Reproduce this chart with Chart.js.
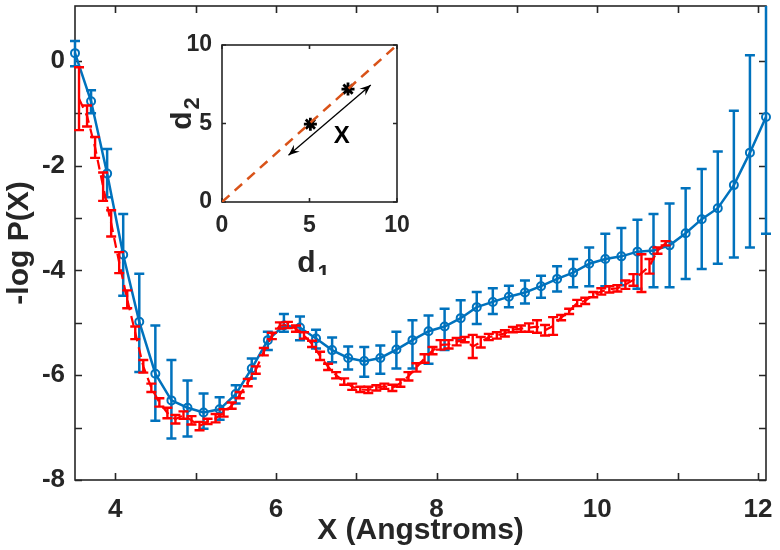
<!DOCTYPE html>
<html>
<head>
<meta charset="utf-8">
<script src="https://cdn.jsdelivr.net/npm/chart.js@4.4.0/dist/chart.umd.min.js"></script>
<style>
html,body{margin:0;padding:0;background:#fff;}
#wrap{position:relative;width:780px;height:550px;}
#main{position:absolute;left:0;top:0;}
#inset{position:absolute;left:170px;top:20px;}
</style>
</head>
<body>
<div id="wrap">
  <canvas id="main" width="780" height="550"></canvas>
  <canvas id="inset" width="240" height="255"></canvas>
</div>
<script>
// blue curve (circles, every 0.2 A)
const blueX = [3.5,3.7,3.9,4.1,4.3,4.5,4.7,4.9,5.1,5.3,5.5,5.7,5.9,6.1,6.3,6.5,6.7,6.9,7.1,7.3,7.5,7.7,7.9,8.1,8.3,8.5,8.7,8.9,9.1,9.3,9.5,9.7,9.9,10.1,10.3,10.5,10.7,10.9,11.1,11.3,11.5,11.7,11.9,12.1];
const blueY = [0.15,-0.77,-2.15,-3.70,-4.98,-5.97,-6.48,-6.62,-6.71,-6.65,-6.36,-5.87,-5.33,-5.05,-5.09,-5.30,-5.52,-5.67,-5.73,-5.67,-5.51,-5.33,-5.16,-5.07,-4.91,-4.70,-4.60,-4.50,-4.42,-4.30,-4.16,-4.04,-3.87,-3.78,-3.73,-3.64,-3.62,-3.52,-3.29,-3.02,-2.81,-2.37,-1.75,-1.07];
const blueLo = [-0.10,-1.00,-2.60,-4.48,-5.94,-6.87,-7.21,-7.17,-7.02,-6.85,-6.54,-6.06,-5.52,-5.17,-5.33,-5.49,-5.75,-5.89,-6.03,-5.97,-5.87,-5.87,-5.78,-5.52,-5.33,-5.02,-4.83,-4.70,-4.63,-4.52,-4.40,-4.32,-4.30,-4.30,-4.28,-4.35,-4.32,-4.32,-4.16,-3.97,-3.87,-3.75,-3.56,-3.30];
const blueHi = [0.38,-0.56,-1.68,-2.92,-4.06,-5.05,-5.71,-6.10,-6.35,-6.42,-6.19,-5.68,-5.17,-4.83,-4.88,-5.13,-5.28,-5.45,-5.46,-5.43,-5.17,-4.95,-4.86,-4.73,-4.57,-4.41,-4.34,-4.29,-4.19,-4.10,-3.92,-3.78,-3.56,-3.30,-3.19,-3.03,-2.92,-2.72,-2.43,-2.06,-1.73,-0.95,0.11,1.60];

// red curve (dashed, every 0.1 A)
const redX = [3.55,3.65,3.75,3.85,3.95,4.05,4.15,4.25,4.35,4.45,4.55,4.65,4.75,4.85,4.95,5.05,5.15,5.25,5.35,5.45,5.55,5.65,5.75,5.85,5.95,6.05,6.15,6.25,6.35,6.45,6.55,6.65,6.75,6.85,6.95,7.05,7.15,7.25,7.35,7.45,7.55,7.65,7.75,7.85,7.95,8.05,8.15,8.25,8.35,8.45,8.55,8.65,8.75,8.85,8.95,9.05,9.15,9.25,9.35,9.45,9.55,9.65,9.75,9.85,9.95,10.05,10.15,10.25,10.35,10.45,10.55,10.65,10.75,10.85];
const redY = [-0.72,-1.05,-1.65,-2.40,-3.10,-3.85,-4.55,-5.19,-5.83,-6.24,
  -6.52,-6.72,-6.84,-6.76,-6.86,-6.97,-6.88,-6.82,-6.72,-6.58,
  -6.38,-6.14,-5.90,-5.55,-5.25,-5.05,-5.04,-5.11,-5.24,-5.40,
  -5.63,-5.84,-6.00,-6.12,-6.22,-6.27,-6.28,-6.24,-6.21,-6.24,
  -6.15,-6.02,-5.85,-5.68,-5.53,-5.42,-5.41,-5.36,-5.32,-5.45,
  -5.37,-5.27,-5.24,-5.20,-5.13,-5.11,-5.09,-5.07,-5.14,-5.06,
  -4.90,-4.78,-4.62,-4.58,-4.46,-4.40,-4.36,-4.34,-4.27,-4.18,
  -4.05,-3.92,-3.62,-3.48];
const redErr = [0.60,0.20,0.20,0.27,0.25,0.20,0.17,0.12,0.12,0.08,
  0.08,0.10,0.08,0.07,0.08,0.08,0.05,0.08,0.07,0.06,
  0.06,0.07,0.07,0.07,0.06,0.06,0.06,0.06,0.06,0.06,
  0.08,0.06,0.06,0.06,0.06,0.05,0.06,0.05,0.05,0.06,
  0.07,0.08,0.08,0.08,0.07,0.09,0.08,0.07,0.05,0.22,
  0.10,0.06,0.06,0.06,0.05,0.06,0.08,0.12,0.10,0.17,
  0.05,0.05,0.06,0.06,0.05,0.06,0.06,0.06,0.08,0.11,
  0.36,0.14,0.06,0.04];

const xTicks = [4,5,6,7,8,9,10,11,12];
const xLabels = [4,6,8,10,12];
const yTicks = [-8,-7,-6,-5,-4,-3,-2,-1,0];
const yLabels = [-8,-6,-4,-2,0];

// inset
const insetTicks = [0,5,10];
const diagX = [0,10], diagY = [0,10];
const ptsX = [5.05,7.2], ptsY = [4.96,7.19];
const arrowX = [3.8,8.5], arrowY = [2.98,7.45];
const labelX = {x:6.85, y:4.15, text:'X'};

const F = "'Liberation Sans', Arial, Helvetica, sans-serif";
const INK = '#262626';
const BLUE = '#0072BD', RED = '#FF0000', ORANGE = '#D95319';

const noPad = s => { s.paddingTop = 0; s.paddingBottom = 0; s.paddingLeft = 0; s.paddingRight = 0; };

const errorBars = {
  id:'errorBars',
  afterDatasetDraw(chart, args){
    const ds = chart.data.datasets[args.index];
    if(!ds.errLo) return;
    const ctx = chart.ctx, a = chart.chartArea;
    const xs = chart.scales.x, ys = chart.scales.y;
    ctx.save();
    ctx.beginPath(); ctx.rect(0, a.top, chart.width, a.bottom-a.top); ctx.clip();
    ctx.strokeStyle = ds.borderColor; ctx.lineWidth = ds.errWidth; ctx.setLineDash([]);
    ds.data.forEach((p,i)=>{
      const px = xs.getPixelForValue(p.x);
      const lo = ys.getPixelForValue(ds.errLo[i]), hi = ys.getPixelForValue(ds.errHi[i]);
      ctx.beginPath();
      ctx.moveTo(px, lo); ctx.lineTo(px, hi);
      ctx.moveTo(px-ds.capW, lo); ctx.lineTo(px+ds.capW, lo);
      ctx.moveTo(px-ds.capW, hi); ctx.lineTo(px+ds.capW, hi);
      ctx.stroke();
    });
    ctx.restore();
  }
};

const boxTicks = {
  id:'boxTicks',
  beforeDatasetsDraw(chart, args, o){
    const ctx = chart.ctx, a = chart.chartArea, x = chart.scales.x, y = chart.scales.y;
    ctx.save();
    ctx.strokeStyle = INK; ctx.lineWidth = o.width;
    ctx.strokeRect(a.left, a.top, a.right-a.left, a.bottom-a.top);
    ctx.beginPath();
    x.ticks.forEach(t=>{
      const px = Math.round(x.getPixelForValue(t.value))+0.5;
      ctx.moveTo(px, a.bottom); ctx.lineTo(px, a.bottom-o.len);
      ctx.moveTo(px, a.top); ctx.lineTo(px, a.top+o.len);
    });
    y.ticks.forEach(t=>{
      const py = Math.round(y.getPixelForValue(t.value))+0.5;
      ctx.moveTo(a.left, py); ctx.lineTo(a.left+o.len, py);
      ctx.moveTo(a.right, py); ctx.lineTo(a.right-o.len, py);
    });
    ctx.stroke();
    ctx.restore();
  }
};

new Chart(document.getElementById('main'), {
  type:'line',
  data:{datasets:[
    {
      data: redX.map((x,i)=>({x, y:redY[i]})),
      borderColor:RED, borderWidth:2.2, borderDash:[10,6],
      pointRadius:0, fill:false, tension:0,
      errLo: redY.map((v,i)=>v-redErr[i]), errHi: redY.map((v,i)=>v+redErr[i]),
      errWidth:2.4, capW:5
    },
    {
      data: blueX.map((x,i)=>({x, y:blueY[i]})),
      borderColor:BLUE, borderWidth:2.5,
      pointRadius:4, pointBorderWidth:2, pointBorderColor:BLUE,
      pointBackgroundColor:'rgba(255,255,255,0)',
      fill:false, tension:0, clip:false,
      errLo: blueLo, errHi: blueHi, errWidth:2.5, capW:5
    }
  ]},
  options:{
    responsive:false, animation:false, devicePixelRatio:1,
    layout:{padding:{top:5, right:14, left:0, bottom:0}},
    plugins:{legend:{display:false}, tooltip:{enabled:false}, boxTicks:{width:1.6, len:7}},
    scales:{
      x:{
        type:'linear', min:3.5, max:12.1,
        afterBuildTicks: s=>{ s.ticks = xTicks.map(v=>({value:v})); },
        afterFit: s=>{ s.height = 70; noPad(s); },
        grid:{display:false, drawTicks:false}, border:{display:false},
        ticks:{color:INK, padding:14, autoSkip:false, maxRotation:0,
          font:{family:F, size:26, weight:'bold'},
          callback: v => xLabels.includes(v) ? String(v) : ''},
        title:{display:true, text:'X (Angstroms)', color:INK,
          font:{family:F, size:30, weight:'bold'}, padding:{top:0, bottom:1}}
      },
      y:{
        type:'linear', min:-8, max:1.05,
        afterBuildTicks: s=>{ s.ticks = yTicks.map(v=>({value:v})); },
        afterFit: s=>{ s.width = 75; noPad(s); },
        grid:{display:false, drawTicks:false}, border:{display:false},
        ticks:{color:INK, padding:10, autoSkip:false,
          font:{family:F, size:26, weight:'bold'},
          callback: v => yLabels.includes(v) ? String(v) : ''},
        title:{display:true, text:'-log P(X)', color:INK,
          font:{family:F, size:30, weight:'bold'}, padding:{top:2, bottom:0}}
      }
    }
  },
  plugins:[boxTicks, errorBars]
});

function subText(ctx, cx, cy, main, sub, size, rot){
  ctx.save();
  ctx.translate(cx, cy); ctx.rotate(rot);
  ctx.fillStyle = INK; ctx.textAlign = 'left'; ctx.textBaseline = 'alphabetic';
  ctx.font = `bold ${size}px ${F}`; const w1 = ctx.measureText(main).width;
  ctx.font = `bold ${Math.round(size*0.72)}px ${F}`; const w2 = ctx.measureText(sub).width;
  const x0 = -(w1+w2+2)/2;
  ctx.font = `bold ${size}px ${F}`; ctx.fillText(main, x0, size*0.3);
  ctx.font = `bold ${Math.round(size*0.72)}px ${F}`; ctx.fillText(sub, x0+w1+2, size*0.3+size*0.28);
  ctx.restore();
}

const insetDeco = {
  id:'insetDeco',
  beforeDatasetsDraw(chart){
    const ctx = chart.ctx, a = chart.chartArea, x = chart.scales.x, y = chart.scales.y;
    ctx.save();
    ctx.strokeStyle = INK; ctx.lineWidth = 1.6;
    ctx.strokeRect(a.left, a.top, a.right-a.left, a.bottom-a.top);
    ctx.beginPath();
    insetTicks.forEach(v=>{
      const px = x.getPixelForValue(v), py = y.getPixelForValue(v);
      ctx.moveTo(px, a.bottom); ctx.lineTo(px, a.bottom-4);
      ctx.moveTo(px, a.top); ctx.lineTo(px, a.top+4);
      ctx.moveTo(a.left, py); ctx.lineTo(a.left+4, py);
      ctx.moveTo(a.right, py); ctx.lineTo(a.right-4, py);
    });
    ctx.stroke();
    ctx.restore();
    subText(ctx, (a.left+a.right)/2+4, 243, 'd', '1', 30, 0);
    subText(ctx, 12, (a.top+a.bottom)/2-10, 'd', '2', 30, -Math.PI/2);
  },
  afterDatasetsDraw(chart){
    const ctx = chart.ctx, x = chart.scales.x, y = chart.scales.y;
    const p0 = [x.getPixelForValue(arrowX[0]), y.getPixelForValue(arrowY[0])];
    const p1 = [x.getPixelForValue(arrowX[1]), y.getPixelForValue(arrowY[1])];
    const head = (tip, from)=>{
      const ang = Math.atan2(tip[1]-from[1], tip[0]-from[0]);
      const L = 11, W = 4.5, B = 7;
      ctx.save(); ctx.translate(tip[0], tip[1]); ctx.rotate(ang);
      ctx.beginPath();
      ctx.moveTo(0,0); ctx.lineTo(-L, -W); ctx.lineTo(-B, 0); ctx.lineTo(-L, W); ctx.closePath();
      ctx.fillStyle = '#000'; ctx.fill();
      ctx.restore();
    };
    head(p1, p0); head(p0, p1);
    ctx.save();
    ctx.fillStyle = '#000'; ctx.font = `bold 24px ${F}`;
    ctx.textAlign = 'center'; ctx.textBaseline = 'middle';
    ctx.fillText(labelX.text, x.getPixelForValue(labelX.x), y.getPixelForValue(labelX.y));
    ctx.restore();
  }
};

new Chart(document.getElementById('inset'), {
  type:'line',
  data:{datasets:[
    {data: diagX.map((v,i)=>({x:v, y:diagY[i]})), borderColor:ORANGE, borderWidth:2.5,
     borderDash:[10,7], pointRadius:0, fill:false},
    {data: ptsX.map((v,i)=>({x:v, y:ptsY[i]})), showLine:false, pointStyle:'star',
     pointRadius:6.5, pointBorderWidth:2.8, pointBorderColor:'#000', pointBackgroundColor:'#000'},
    {data: arrowX.map((v,i)=>({x:v, y:arrowY[i]})), borderColor:'#000', borderWidth:1.3,
     pointRadius:0, fill:false}
  ]},
  options:{
    responsive:false, animation:false, devicePixelRatio:1,
    layout:{padding:{top:25, right:13, left:0, bottom:0}},
    plugins:{legend:{display:false}, tooltip:{enabled:false}},
    scales:{
      x:{type:'linear', min:0, max:10,
        afterBuildTicks: s=>{ s.ticks = insetTicks.map(v=>({value:v})); },
        afterFit: s=>{ s.height = 73; noPad(s); },
        grid:{display:false, drawTicks:false}, border:{display:false},
        ticks:{color:INK, padding:10, font:{family:F, size:23, weight:'bold'}, maxRotation:0}},
      y:{type:'linear', min:0, max:10,
        afterBuildTicks: s=>{ s.ticks = insetTicks.map(v=>({value:v})); },
        afterFit: s=>{ s.width = 52; noPad(s); },
        grid:{display:false, drawTicks:false}, border:{display:false},
        ticks:{color:INK, padding:10, font:{family:F, size:23, weight:'bold'}}}
    }
  },
  plugins:[insetDeco]
});
</script>
</body>
</html>
